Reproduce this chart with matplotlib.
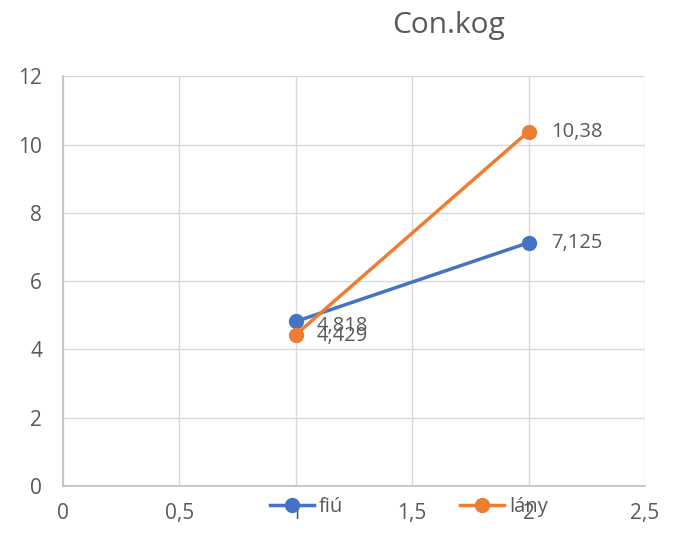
import matplotlib
matplotlib.use("Agg")
import matplotlib.pyplot as plt

# Adatok
x_vals = [1, 2]
fiu = [4.818, 7.125]
lany = [4.429, 10.38]
fiu_labels = ['4,818', '7,125']
lany_labels = ['4,429', '10,38']
x_ticks = [0, 0.5, 1, 1.5, 2, 2.5]
x_tick_labels = ['0', '0,5', '1', '1,5', '2', '2,5']
y_ticks = [0, 2, 4, 6, 8, 10, 12]

plt.rcParams['font.family'] = ['Open Sans', 'DejaVu Sans']
gray = '#595959'

fig = plt.figure(figsize=(6.83, 5.37), dpi=100)
ax = fig.add_axes([0.0922, 0.095, 0.852, 0.763])

ax.plot(x_vals, fiu, '-o', color='#4472C4', linewidth=2.5, markersize=10, label='fiú', zorder=3)
ax.plot(x_vals, lany, '-o', color='#ED7D31', linewidth=2.5, markersize=10, label='lány', zorder=3)

# Adatcímkék
ax.annotate(fiu_labels[0], (x_vals[0], fiu[0]), xytext=(15, -3), textcoords='offset points',
            fontsize=14.5, color=gray, va='center', ha='left')
ax.annotate(lany_labels[0], (x_vals[0], lany[0]), xytext=(15, -1), textcoords='offset points',
            fontsize=14.5, color=gray, va='center', ha='left')
ax.annotate(fiu_labels[1], (x_vals[1], fiu[1]), xytext=(16, 0), textcoords='offset points',
            fontsize=14.5, color=gray, va='center', ha='left')
ax.annotate(lany_labels[1], (x_vals[1], lany[1]), xytext=(16, 0), textcoords='offset points',
            fontsize=14.5, color=gray, va='center', ha='left')

ax.set_xlim(0, 2.5)
ax.set_ylim(0, 12)
ax.set_xticks(x_ticks)
ax.set_xticklabels(x_tick_labels)
ax.set_yticks(y_ticks)
ax.tick_params(axis='both', length=0, labelsize=15, labelcolor=gray)
ax.tick_params(axis='x', pad=12)
ax.tick_params(axis='y', pad=15)
ax.grid(True, color='#d9d9d9', linewidth=1)
ax.set_axisbelow(True)
for side in ['top', 'right']:
    ax.spines[side].set_visible(False)
for side in ['left', 'bottom']:
    ax.spines[side].set_color('#bfbfbf')
    ax.spines[side].set_linewidth(1.2)

fig.text(0.656, 0.953, 'Con.kog', fontsize=21.5, color=gray, ha='center', va='center')

fig.legend(loc='center left', bbox_to_anchor=(0.395, 0.056), ncol=2, frameon=False,
           fontsize=14.5, labelcolor=gray, columnspacing=5.8, handlelength=2.2,
           handletextpad=0.25, borderpad=0, borderaxespad=0)

fig.savefig('out.png', dpi=100)
